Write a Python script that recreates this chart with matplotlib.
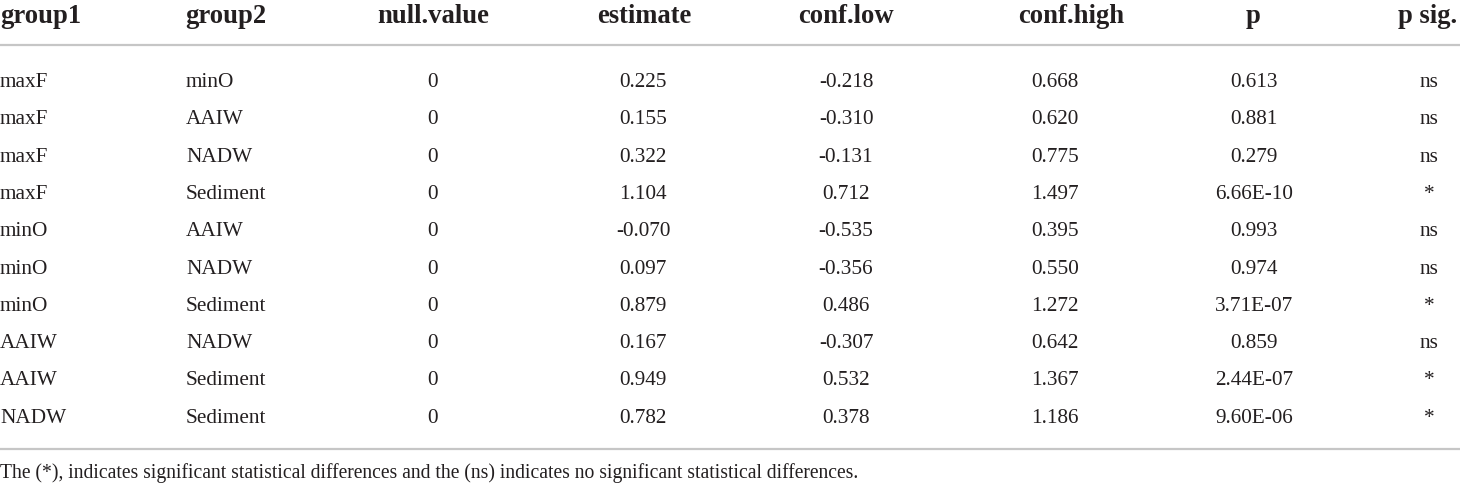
import matplotlib
matplotlib.use("Agg")
import matplotlib.pyplot as plt

# table content
headers = ["group1", "group2", "null.value", "estimate", "conf.low", "conf.high", "p", "p sig."]
group1 = ["maxF", "maxF", "maxF", "maxF", "minO", "minO", "minO", "AAIW", "AAIW", "NADW"]
group2 = ["minO", "AAIW", "NADW", "Sediment", "AAIW", "NADW", "Sediment", "NADW", "Sediment", "Sediment"]
null_value = ["0"] * 10
estimate = ["0.225", "0.155", "0.322", "1.104", "-0.070", "0.097", "0.879", "0.167", "0.949", "0.782"]
conf_low = ["-0.218", "-0.310", "-0.131", "0.712", "-0.535", "-0.356", "0.486", "-0.307", "0.532", "0.378"]
conf_high = ["0.668", "0.620", "0.775", "1.497", "0.395", "0.550", "1.272", "0.642", "1.367", "1.186"]
p_value = ["0.613", "0.881", "0.279", "6.66E-10", "0.993", "0.974", "3.71E-07", "0.859", "2.44E-07", "9.60E-06"]
p_sig = ["ns", "ns", "ns", "*", "ns", "ns", "*", "ns", "*", "*"]
footnote = ("The (*), indicates significant statistical differences and the (ns) "
            "indicates no significant statistical differences.")

W, H = 1460, 483
ink = "#231f20"
rule = "#c6c6c6"

fig = plt.figure(figsize=(W / 100, H / 100), dpi=100)
ax = fig.add_axes([0, 0, 1, 1])
ax.set_xlim(0, W)
ax.set_ylim(H, 0)
ax.axis("off")

plt.rcParams["font.family"] = ["Liberation Serif", "DejaVu Serif"]

# column anchors (pixels): (header x, header align, body x, body align)
cols = [
    (0, "left", 0, "left"),
    (185, "left", 186, "left"),
    (433, "center", 433, "center"),
    (644, "center", 643, "center"),
    (846, "center", 846, "center"),
    (1071, "center", 1055, "center"),
    (1253, "center", 1254, "center"),
    (1428, "center", 1429, "center"),
]
columns = [group1, group2, null_value, estimate, conf_low, conf_high, p_value, p_sig]

header_base = 23
row0, row_step = 87, 37.3

for (hx, ha, bx, ba), name, values in zip(cols, headers, columns):
    ax.text(hx, header_base, name, ha=ha, va="baseline", fontsize=19.2, fontweight="bold", color=ink)
    for i, v in enumerate(values):
        ax.text(bx, row0 + i * row_step, v, ha=ba, va="baseline", fontsize=15.3, color=ink)

ax.plot([0, W], [45, 45], color=rule, lw=1.6)
ax.plot([0, W], [449, 449], color=rule, lw=1.6)

ax.text(0, 478, footnote, ha="left", va="baseline", fontsize=14.1, color=ink)

fig.savefig("out.png", dpi=100)
